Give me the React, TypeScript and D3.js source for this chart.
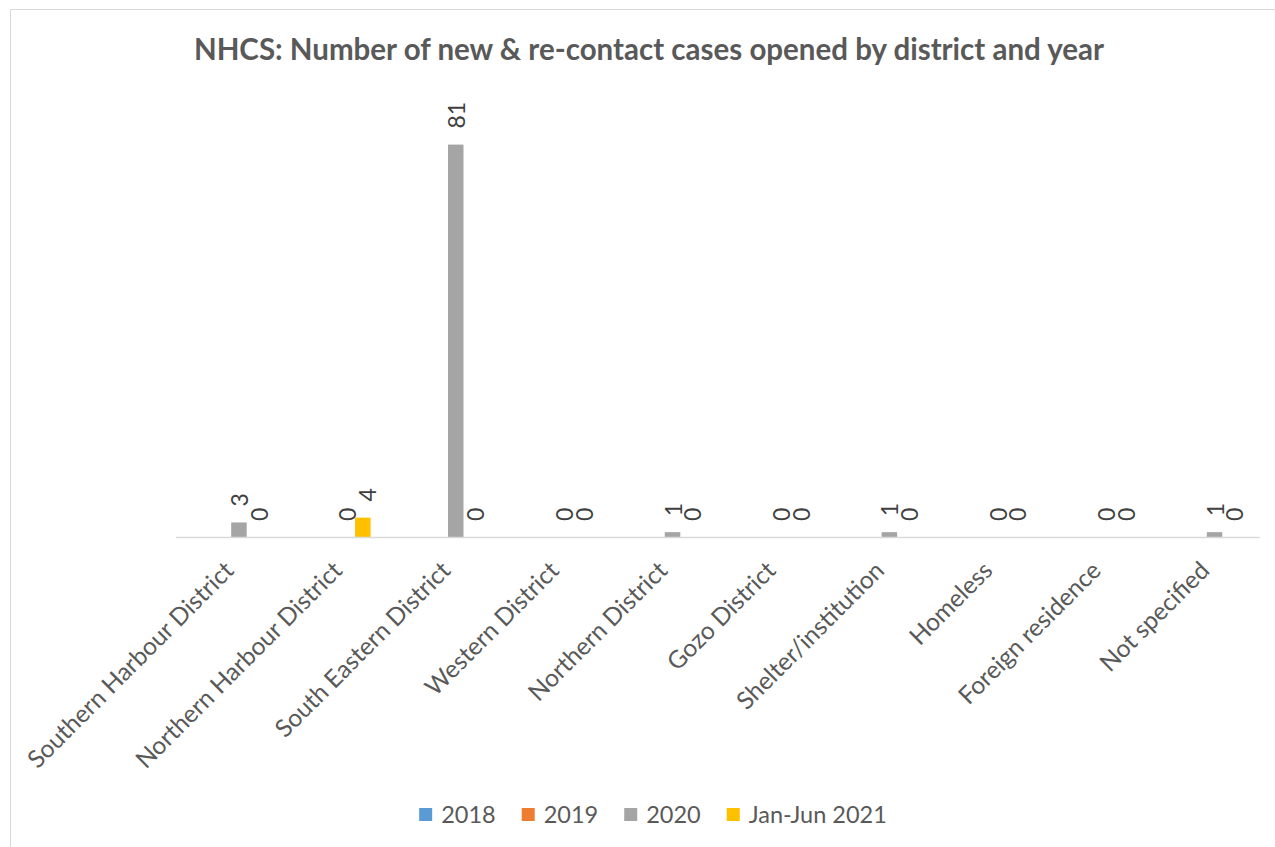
import { useEffect, useRef } from "react";
import * as d3 from "d3";

const categories = [
  "Southern Harbour District",
  "Northern Harbour District",
  "South Eastern District",
  "Western District",
  "Northern District",
  "Gozo District",
  "Shelter/institution",
  "Homeless",
  "Foreign residence",
  "Not specified",
];
const seriesNames = ["2018", "2019", "2020", "Jan-Jun 2021"];
const colors = ["#5B9BD5", "#ED7D31", "#A5A5A5", "#FFC000"];
const values2018 = [null, null, null, null, null, null, null, null, null, null];
const values2019 = [null, null, null, null, null, null, null, null, null, null];
const values2020 = [3, 0, 81, 0, 1, 0, 1, 0, 0, 1];
const values2021 = [0, 4, 0, 0, 0, 0, 0, 0, 0, 0];
const yDomain = [0, 90];

const title = "NHCS: Number of new & re-contact cases opened by district and year";

export default function App() {
  const ref = useRef(null);

  const width = 1275;
  const height = 847;
  const marginLeft = 176;
  const marginRight = 15;
  const baseline = 537;
  const plotTop = 101;
  const font = "Lato, 'Open Sans', sans-serif";

  useEffect(() => {
    const svg = d3.select(ref.current);
    svg.selectAll("*").remove();

    const series = [values2018, values2019, values2020, values2021];

    const x = d3.scaleBand()
      .domain(categories)
      .range([marginLeft, width - marginRight]);

    const y = d3.scaleLinear()
      .domain(yDomain)
      .range([baseline, plotTop]);

    const barW = 15.5;
    const groupW = barW * series.length;

    // chart frame
    svg.append("rect")
      .attr("x", 10.5).attr("y", 9.5)
      .attr("width", width + 20).attr("height", height + 20)
      .attr("fill", "white")
      .attr("stroke", "#d9d9d9");

    svg.append("text")
      .attr("x", 649).attr("y", 60)
      .attr("text-anchor", "middle")
      .attr("font-family", font)
      .attr("font-weight", "bold")
      .attr("font-size", 29.5)
      .attr("fill", "#595959")
      .text(title);

    // bars + labels
    series.forEach((vals, si) => {
      const g = svg.append("g");
      categories.forEach((c, i) => {
        const v = vals[i];
        if (v === null) return;
        const bx = x(c) + x.bandwidth() / 2 - groupW / 2 + si * barW + 1;
        g.append("rect")
          .attr("x", bx)
          .attr("y", y(v))
          .attr("width", barW)
          .attr("height", y(0) - y(v))
          .attr("fill", colors[si]);
        // Excel nudges the last series' labels right so pairs don't collide
        const lx = bx + barW / 2 + (si === 3 ? 5 : 1);
        const ly = y(v) - 16;
        g.append("text")
          .attr("transform", `translate(${lx},${ly}) rotate(-90)`)
          .attr("dy", "0.35em")
          .attr("font-family", font)
          .attr("font-size", 23)
          .attr("fill", "#404040")
          .text(v);
      });
    });

    // axis line
    svg.append("line")
      .attr("x1", x.range()[0]).attr("x2", x.range()[1])
      .attr("y1", baseline + 0.5).attr("y2", baseline + 0.5)
      .attr("stroke", "#d9d9d9")
      .attr("stroke-width", 1.5);

    // category labels
    svg.append("g")
      .selectAll("text")
      .data(categories)
      .join("text")
      .attr("transform", d => `translate(${x(d) + x.bandwidth() / 2 - 1},${baseline + 29}) rotate(-45)`)
      .attr("text-anchor", "end")
      .attr("dy", "0.35em")
      .attr("font-family", font)
      .attr("font-size", 24.5)
      .attr("fill", "#595959")
      .text(d => d);

    // legend
    const legend = svg.append("g").attr("transform", `translate(0,815)`);
    const items = legend.selectAll("g")
      .data(seriesNames)
      .join("g");
    items.append("rect")
      .attr("y", -7).attr("width", 13).attr("height", 13)
      .attr("fill", (d, i) => colors[i]);
    items.append("text")
      .attr("x", 22).attr("dy", "0.35em")
      .attr("font-family", font)
      .attr("font-size", 23.5)
      .attr("fill", "#595959")
      .text(d => d);
    let offset = 0;
    const widths = [];
    items.each(function () {
      const t = d3.select(this).select("text").node() as SVGTextElement;
      widths.push(22 + t.getComputedTextLength());
    });
    const gap = 26;
    const total = d3.sum(widths) + gap * (widths.length - 1);
    offset = 653 - total / 2;
    items.attr("transform", (d, i) => {
      const tx = offset;
      offset += widths[i] + gap;
      return `translate(${tx},0)`;
    });
  }, []);

  return (
    <div style={{ position: "absolute", left: 0, top: 0 }}>
      <svg ref={ref} width={width} height={height} style={{ display: "block" }} />
    </div>
  );
}
